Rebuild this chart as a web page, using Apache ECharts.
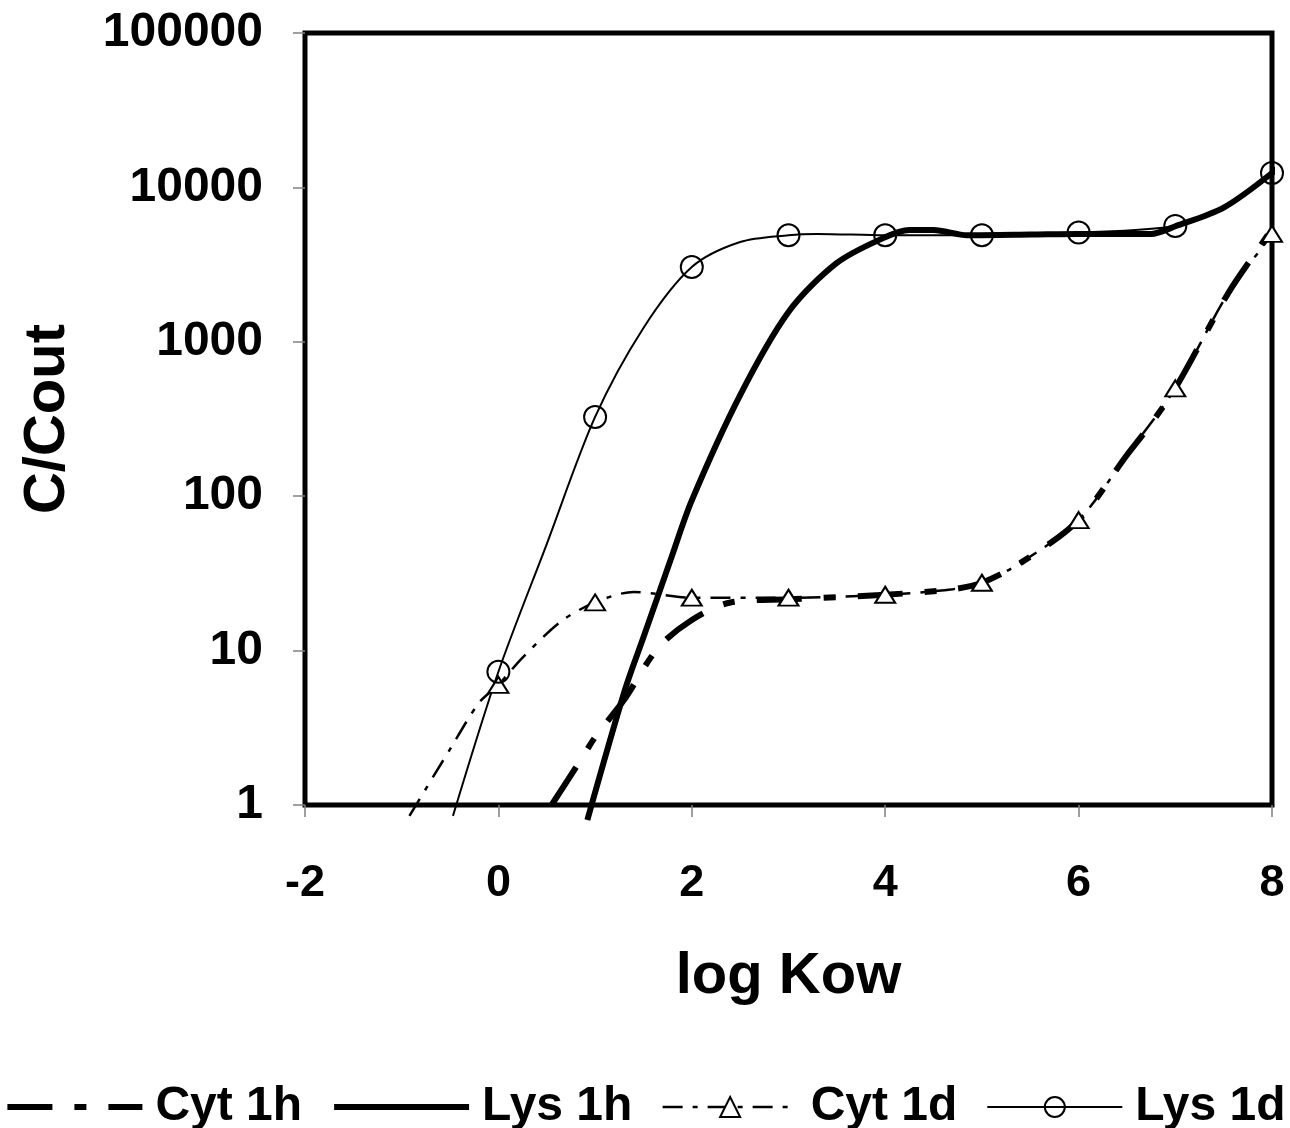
<!DOCTYPE html>
<html>
<head>
<meta charset="utf-8">
<script src="https://cdn.jsdelivr.net/npm/echarts@6/dist/echarts.min.js"></script>
<style>
html,body{margin:0;padding:0;background:#fff;}
#chart{width:1290px;height:1128px;}
</style>
</head>
<body>
<div id="chart"></div>
<script>
// x ticks
var xTicks = [-2, 0, 2, 4, 6, 8];
var yTicks = [1, 10, 100, 1000, 10000, 100000];

// Cyt 1h (thick dashed)
var cyt1hX = [0.55, 0.85, 1.0, 1.3, 1.65, 2.0, 2.4, 3.0, 4.0, 4.7, 5.0, 5.4, 6.0, 6.5, 6.7, 7.0, 7.55, 7.9, 8.2];
var cyt1hY = [1.0, 1.95, 2.75, 4.8, 10.4, 15.8, 20.5, 21.5, 23, 25, 27.5, 37, 70, 185, 268, 500, 2080, 4370, 8300];

// Lys 1h (thick solid)
var lys1hX = [0.92, 1.31, 1.5, 1.78, 2.0, 2.5, 3.0, 3.5, 3.98, 4.25, 4.5, 4.85, 5.5, 6.0, 6.75, 7.0, 7.5, 8.0, 8.2];
var lys1hY = [0.8, 5.6, 12.2, 38.6, 94, 452, 1560, 3240, 4700, 5300, 5300, 4900, 4950, 5000, 5000, 5600, 7400, 12400, 16500];

// Cyt 1d (thin dash-dot, triangles)
var cyt1dX = [-0.92, -0.5, -0.2, 0, 0.25, 0.65, 1, 1.4, 2, 3, 4, 4.7, 5, 5.4, 6, 6.5, 7, 7.55, 8, 8.2];
var cyt1dY = [0.85, 2.3, 4.6, 6.0, 9.0, 15.5, 20.5, 24, 22, 22, 23, 25, 27.5, 37, 70, 185, 500, 2080, 5000, 8300];

// Lys 1d (thin solid, circles)
var lys1dX = [-0.47, 0, 0.5, 1, 1.5, 2, 2.5, 3, 3.3, 4, 5, 6, 7, 7.5, 8, 8.2];
var lys1dY = [0.85, 7.3, 49, 326, 1230, 3050, 4430, 4900, 5000, 4900, 4900, 5100, 5630, 7400, 12400, 16500];

var markerXs = [0, 1, 2, 3, 4, 5, 6, 7, 8];

function pairs(xs, ys, markers) {
  return xs.map(function (x, i) {
    var item = { value: [x, ys[i]] };
    if (markers && markers.indexOf(x) < 0) item.symbol = 'none';
    return item;
  });
}

var chart = echarts.init(document.getElementById('chart'));
var FONT = 'Liberation Sans, Arial, sans-serif';
var CYT1H_DASH = [45, 22, 12, 22];
var CYT1D_DASH = [20, 10, 5, 10];

chart.setOption({
  backgroundColor: '#fff',
  animation: false,
  grid: {
    left: 305, right: 18, top: 33, bottom: 323,
    show: true, borderColor: '#000', borderWidth: 5, backgroundColor: 'transparent'
  },
  legend: {
    bottom: -3,
    left: 'center',
    padding: 0,
    width: 1290,
    itemWidth: 135,
    itemHeight: 25,
    itemGap: 29,
    textStyle: { fontFamily: FONT, fontWeight: 'bold', fontSize: 48, color: '#000', padding: [0, 0, 0, 8] },
    data: [
      { name: 'Cyt 1h', itemStyle: { opacity: 0 }, lineStyle: { width: 6, type: CYT1H_DASH, color: '#000' } },
      { name: 'Lys 1h', itemStyle: { opacity: 0 }, lineStyle: { width: 6, type: 'solid', color: '#000' } },
      { name: 'Cyt 1d', lineStyle: { width: 2.5, type: CYT1D_DASH, color: '#000' } },
      { name: 'Lys 1d', lineStyle: { width: 2, type: 'solid', color: '#000' } }
    ]
  },
  xAxis: {
    type: 'value',
    min: -2, max: 8, interval: 2,
    name: 'log Kow',
    nameLocation: 'middle',
    nameGap: 143,
    nameTextStyle: { fontFamily: FONT, fontWeight: 'bold', fontSize: 58, color: '#000' },
    axisLine: { show: false, onZero: false },
    axisTick: { show: true, length: 12, lineStyle: { color: '#808080', width: 1.5 } },
    axisLabel: { fontFamily: FONT, fontWeight: 'bold', fontSize: 45, color: '#000', margin: 56,
      formatter: function (v) { return String(v); } },
    splitLine: { show: false }
  },
  yAxis: {
    type: 'log',
    logBase: 10,
    min: 1, max: 100000,
    name: 'C/Cout',
    nameLocation: 'middle',
    nameRotate: 90,
    nameGap: 228,
    nameTextStyle: { fontFamily: FONT, fontWeight: 'bold', fontSize: 58, color: '#000' },
    axisLine: { show: false, onZero: false },
    axisTick: { show: true, length: 12, lineStyle: { color: '#808080', width: 1.5 } },
    axisLabel: { fontFamily: FONT, fontWeight: 'bold', fontSize: 48, color: '#000', margin: 42,
      padding: [12, 0, 0, 0],
      formatter: function (v) { return String(Math.round(v)); } },
    splitLine: { show: false }
  },
  series: [
    {
      name: 'Cyt 1h', type: 'line', clip: false, smooth: 0.3,
      symbol: 'none', showSymbol: false,
      lineStyle: { color: '#000', width: 6, type: CYT1H_DASH, cap: 'butt' },
      itemStyle: { color: '#000' },
      data: pairs(cyt1hX, cyt1hY)
    },
    {
      name: 'Lys 1h', type: 'line', clip: false, smooth: 0.3,
      symbol: 'none', showSymbol: false,
      lineStyle: { color: '#000', width: 6, type: 'solid' },
      itemStyle: { color: '#000' },
      data: pairs(lys1hX, lys1hY)
    },
    {
      name: 'Cyt 1d', type: 'line', clip: false, smooth: 0.3,
      symbol: 'triangle', symbolSize: [20, 16],
      lineStyle: { color: '#000', width: 2.5, type: CYT1D_DASH },
      itemStyle: { color: '#fff', borderColor: '#000', borderWidth: 2 },
      data: pairs(cyt1dX, cyt1dY, markerXs)
    },
    {
      name: 'Lys 1d', type: 'line', clip: false, smooth: 0.3,
      symbol: 'circle', symbolSize: 22,
      lineStyle: { color: '#000', width: 2 },
      itemStyle: { color: 'rgba(255,255,255,0)', borderColor: '#000', borderWidth: 2 },
      data: pairs(lys1dX, lys1dY, markerXs)
    }
  ]
});
</script>
</body>
</html>
